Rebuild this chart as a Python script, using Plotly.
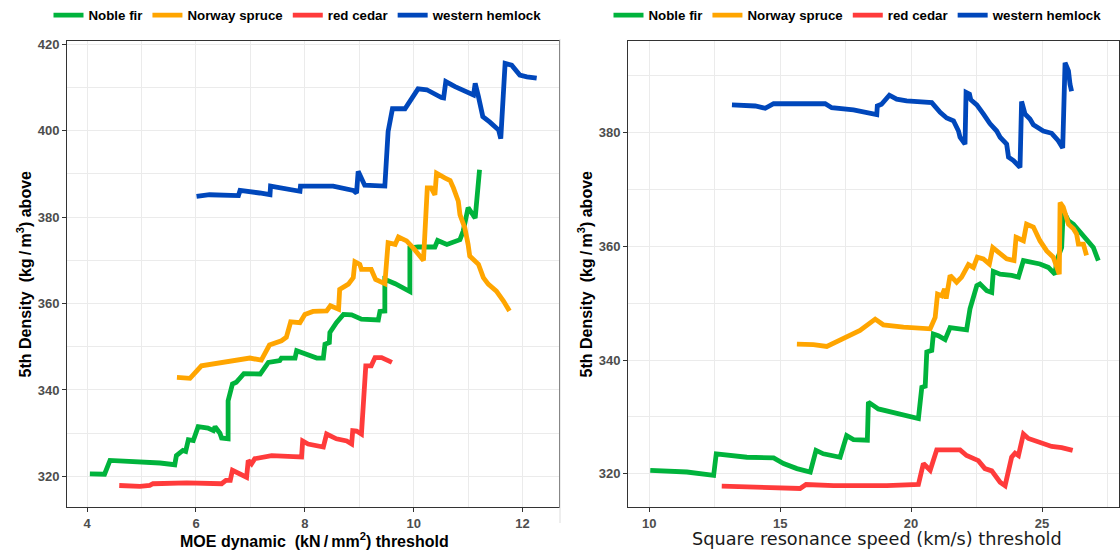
import plotly.graph_objects as go

# ---- MOE dynamic threshold (left panel) ----
moe_noble = [4.05, 4.32, 4.42, 4.91, 5.34, 5.61, 5.64, 5.76, 5.81, 5.86, 5.95, 6.04, 6.22, 6.32, 6.35, 6.44,
             6.47, 6.59, 6.59, 6.67, 6.74, 6.88, 7.18, 7.33, 7.54, 7.57, 7.82, 7.85, 8.03, 8.22, 8.34, 8.37,
             8.45, 8.46, 8.58, 8.71, 8.86, 9.04, 9.35, 9.38, 9.47, 9.47, 9.66, 9.78, 9.93, 9.93, 10.08, 10.39,
             10.44, 10.61, 10.85, 10.91, 11.00, 11.13, 11.21]
dens_noble_moe = [320.6, 320.5, 323.7, 323.5, 323.1, 322.7, 324.8, 326.0, 325.8, 328.5, 328.3, 331.5, 331.2,
                  330.6, 331.5, 330.0, 328.9, 328.7, 337.5, 341.4, 341.8, 343.8, 343.7, 346.4, 346.8, 347.4,
                  347.4, 349.1, 348.3, 347.4, 347.4, 350.6, 351.0, 353.3, 355.6, 357.5, 357.4, 356.4, 356.2,
                  358.2, 358.3, 365.6, 364.6, 363.7, 362.8, 372.9, 373.1, 373.1, 374.6, 373.7, 374.8, 376.8,
                  382.2, 379.8, 391.0]

moe_spruce = [5.65, 5.89, 6.10, 6.32, 6.68, 6.99, 7.20, 7.35, 7.57, 7.66, 7.74, 7.91, 8.00, 8.15, 8.40, 8.47,
              8.62, 8.64, 8.80, 8.89, 8.92, 9.01, 9.04, 9.22, 9.30, 9.47, 9.53, 9.66, 9.72, 9.87, 9.99, 10.18,
              10.25, 10.32, 10.39, 10.42, 10.57, 10.67, 10.73, 10.82, 10.85, 10.94, 11.00, 11.03, 11.19, 11.28,
              11.37, 11.52, 11.65, 11.76]
dens_spruce_moe = [342.9, 342.7, 345.6, 346.0, 346.8, 347.4, 346.9, 350.4, 351.4, 352.2, 355.8, 355.6, 357.5,
                   358.2, 358.3, 359.5, 358.7, 363.3, 364.5, 366.0, 369.7, 369.1, 367.9, 367.9, 365.6, 364.6,
                   374.1, 373.7, 375.4, 374.5, 372.9, 370.0, 386.8, 386.8, 385.2, 390.2, 389.1, 388.5, 386.8,
                   383.7, 380.6, 377.5, 373.7, 371.0, 369.1, 366.0, 364.5, 362.9, 360.6, 358.3]

moe_cedar = [4.59, 4.97, 5.15, 5.21, 5.83, 6.47, 6.55, 6.63, 6.67, 6.81, 6.93, 6.96, 7.02, 7.08, 7.39, 7.79,
             7.94, 7.96, 8.06, 8.34, 8.40, 8.58, 8.77, 8.86, 8.88, 8.95, 9.04, 9.12, 9.22, 9.29, 9.41, 9.60]
dens_cedar_moe = [317.9, 317.7, 317.9, 318.3, 318.5, 318.3, 319.1, 319.1, 321.4, 320.5, 319.8, 323.7, 322.9,
                  324.1, 324.8, 324.6, 324.5, 328.2, 327.5, 326.8, 329.8, 328.7, 328.2, 327.5, 330.6, 330.5,
                  329.8, 345.6, 345.6, 347.5, 347.5, 346.4]

moe_hemlock = [6.01, 6.25, 6.78, 6.81, 7.17, 7.36, 7.37, 7.79, 7.91, 7.92, 8.52, 8.89, 8.95, 8.98, 9.04, 9.10,
               9.47, 9.53, 9.61, 9.84, 10.08, 10.24, 10.51, 10.55, 10.59, 10.76, 11.10, 11.13, 11.19, 11.27,
               11.40, 11.56, 11.60, 11.68, 11.80, 11.95, 12.08, 12.26]
dens_hemlock_moe = [384.8, 385.2, 385.0, 386.2, 385.6, 385.2, 387.2, 386.3, 386.0, 387.2, 387.2, 386.2, 385.6,
                    390.6, 389.1, 387.4, 387.2, 399.8, 405.1, 405.1, 409.7, 409.5, 407.7, 407.6, 411.4, 410.2,
                    408.3, 411.0, 407.9, 403.3, 402.0, 400.2, 398.2, 415.6, 415.2, 412.9, 412.5, 412.2]

# ---- Square resonance speed threshold (right panel) ----
speed_noble = [10.04, 11.44, 12.46, 12.56, 13.73, 14.75, 15.13, 15.64, 16.15, 16.37, 16.65, 17.29, 17.54, 17.80,
               18.33, 18.37, 18.75, 19.33, 19.96, 20.28, 20.41, 20.54, 20.60, 20.79, 20.85, 21.04, 21.30, 21.49,
               22.12, 22.25, 22.51, 22.63, 22.89, 23.08, 23.14, 23.40, 23.84, 24.10, 24.29, 24.92, 25.24, 25.50,
               25.56, 25.75, 25.81, 26.01, 26.20, 26.45, 26.70, 26.96, 27.15]
dens_noble_speed = [320.6, 320.3, 319.7, 323.5, 322.9, 322.8, 321.8, 320.9, 320.3, 324.1, 323.5, 322.9, 326.7,
                    326.0, 325.9, 332.6, 331.4, 330.7, 330.1, 329.7, 335.2, 335.4, 341.4, 341.7, 344.6, 344.3,
                    343.6, 345.7, 345.3, 349.0, 353.1, 353.4, 352.2, 351.9, 355.6, 355.1, 354.9, 354.6, 357.5,
                    356.9, 356.3, 355.1, 357.5, 359.8, 366.3, 364.5, 363.9, 362.5, 361.3, 359.8, 357.5]

speed_spruce = [15.64, 16.27, 16.78, 17.29, 18.05, 18.63, 18.94, 19.71, 20.73, 20.92, 21.01, 21.17, 21.28, 21.34,
                21.49, 21.74, 21.93, 22.19, 22.38, 22.53, 22.76, 22.99, 23.12, 23.33, 23.65, 23.93, 24.01, 24.29,
                24.41, 24.67, 24.92, 25.18, 25.43, 25.66, 25.69, 25.81, 26.01, 26.20, 26.32, 26.39, 26.58, 26.70]
dens_spruce_speed = [342.8, 342.7, 342.4, 343.5, 345.2, 347.2, 346.2, 345.8, 345.5, 347.5, 351.6, 351.3, 352.5,
                     350.8, 354.9, 353.7, 354.6, 356.8, 356.3, 358.1, 357.8, 356.9, 359.8, 359.0, 357.8, 357.5,
                     361.6, 361.0, 363.9, 363.4, 361.0, 359.2, 358.1, 355.1, 367.7, 366.9, 363.9, 363.1, 362.2,
                     360.4, 360.4, 358.4]

speed_cedar = [12.77, 13.98, 15.76, 15.99, 17.04, 19.07, 20.28, 20.47, 20.73, 20.98, 21.87, 22.12, 22.57, 22.82,
               23.08, 23.40, 23.59, 23.84, 23.97, 24.10, 24.29, 24.48, 24.92, 25.37, 25.75, 26.17]
dens_cedar_speed = [317.8, 317.7, 317.4, 318.1, 317.9, 317.9, 318.1, 321.8, 320.6, 324.2, 324.2, 323.2, 322.3,
                    320.9, 320.5, 318.5, 317.9, 322.9, 323.6, 323.2, 327.0, 326.2, 325.6, 324.8, 324.6, 324.1]

speed_hemlock = [13.16, 14.05, 14.43, 14.75, 16.72, 16.97, 17.80, 18.69, 18.71, 18.87, 19.17, 19.45, 19.83, 20.79,
                 21.11, 21.36, 21.62, 21.81, 21.87, 22.06, 22.10, 22.23, 22.28, 22.51, 22.76, 23.01, 23.27, 23.40,
                 23.65, 23.72, 23.91, 24.16, 24.22, 24.35, 24.54, 24.67, 25.05, 25.37, 25.62, 25.79, 25.88, 26.01,
                 26.07, 26.13]
dens_hemlock_speed = [384.9, 384.7, 384.3, 385.1, 385.1, 384.4, 384.0, 383.2, 384.7, 385.0, 386.6, 385.9, 385.6,
                      385.3, 383.6, 382.6, 382.1, 380.3, 379.2, 378.0, 387.1, 386.8, 385.8, 384.9, 383.3, 381.6,
                      380.3, 379.2, 378.0, 375.7, 375.1, 373.9, 385.5, 383.3, 382.4, 381.4, 380.3, 379.9, 378.6,
                      377.3, 392.3, 390.9, 388.5, 387.3]

species = ["Noble fir", "Norway spruce", "red cedar", "western hemlock"]
colors = ["#00b33c", "#ffa500", "#ff3b3b", "#0047bb"]

left_series = [(moe_noble, dens_noble_moe), (moe_spruce, dens_spruce_moe),
               (moe_cedar, dens_cedar_moe), (moe_hemlock, dens_hemlock_moe)]
right_series = [(speed_noble, dens_noble_speed), (speed_spruce, dens_spruce_speed),
                (speed_cedar, dens_cedar_speed), (speed_hemlock, dens_hemlock_speed)]

W, H = 1120, 551
FONT = "Liberation Sans, Arial, sans-serif"


def px_x(p):
    return p / W


def px_y(p):
    return (H - p) / H


fig = go.Figure()

for name, col, (xs, ys) in zip(species, colors, left_series):
    fig.add_trace(go.Scatter(x=xs, y=ys, mode="lines", name=name,
                             line=dict(color=col, width=4.8),
                             xaxis="x", yaxis="y", legend="legend"))

for name, col, (xs, ys) in zip(species, colors, right_series):
    fig.add_trace(go.Scatter(x=xs, y=ys, mode="lines", name=name,
                             line=dict(color=col, width=4.8),
                             xaxis="x2", yaxis="y2", legend="legend2"))

y_dom = [px_y(507), px_y(40)]

axis_common = dict(
    showline=True, mirror=True, linecolor="#333333", linewidth=1,
    ticks="outside", ticklen=4, tickcolor="#333333", tickwidth=1,
    tickfont=dict(family=FONT, size=13, color="#4d4d4d", weight="bold"),
    showgrid=True, gridcolor="#ebebeb", gridwidth=1,
    zeroline=False, automargin=False,
)


def minor_grid(vals):
    return dict(showgrid=True, gridcolor="#ebebeb", gridwidth=0.6, tickvals=vals, ticks="")


legend_common = dict(
    orientation="h", xanchor="center", yanchor="middle",
    font=dict(family=FONT, size=13.3, color="#000000", weight="bold"),
    bgcolor="rgba(0,0,0,0)", itemwidth=30, tracegroupgap=0,
    itemclick=False, itemdoubleclick=False,
)

fig.update_layout(
    width=W, height=H,
    margin=dict(l=0, r=0, t=0, b=0),
    paper_bgcolor="white", plot_bgcolor="white",
    showlegend=True,
    xaxis=dict(domain=[px_x(67), px_x(559)], range=[3.63, 12.67],
               tickvals=[4, 6, 8, 10, 12], anchor="y",
               minor=minor_grid([5, 7, 9, 11]), **axis_common),
    yaxis=dict(domain=y_dom, range=[312.9, 420.8],
               tickvals=[320, 340, 360, 380, 400, 420], anchor="x",
               minor=minor_grid([330, 350, 370, 390, 410]), **axis_common),
    xaxis2=dict(domain=[px_x(628), px_x(1119)], range=[9.19, 27.94],
                tickvals=[10, 15, 20, 25], anchor="y2",
                minor=minor_grid([12.5, 17.5, 22.5, 27.5]), **axis_common),
    yaxis2=dict(domain=y_dom, range=[314.13, 396.15],
                tickvals=[320, 340, 360, 380], anchor="x2",
                minor=minor_grid([330, 350, 370, 390]), **axis_common),
    legend=dict(x=px_x(298), y=px_y(15), **legend_common),
    legend2=dict(x=px_x(858), y=px_y(15), **legend_common),
)

# thin separator between the two panels
fig.add_shape(type="line", xref="paper", yref="paper",
              x0=px_x(560), x1=px_x(560), y0=px_y(523), y1=px_y(38),
              line=dict(color="#dddddd", width=1))

title_font = dict(family=FONT, size=16, color="#000000", weight="bold")
y_title = "5th Density\u00a0 (kg\u2009/\u2009m<sup>3</sup>) above"

annotations = [
    dict(text="MOE dynamic\u00a0 (kN\u2009/\u2009mm<sup>2</sup>) threshold",
         x=px_x(314), y=px_y(540), font=title_font),
    dict(text="Square resonance speed (km/s) threshold",
         x=px_x(877), y=px_y(539),
         font=dict(family="DejaVu Sans, Verdana, sans-serif", size=17.7, color="#1a1a1a")),
    dict(text=y_title, x=px_x(24), y=px_y(274), textangle=-90, font=title_font),
    dict(text=y_title, x=px_x(585), y=px_y(274), textangle=-90, font=title_font),
]
for a in annotations:
    fig.add_annotation(xref="paper", yref="paper", showarrow=False,
                       xanchor="center", yanchor="middle", **a)

fig.write_html("out.html")
